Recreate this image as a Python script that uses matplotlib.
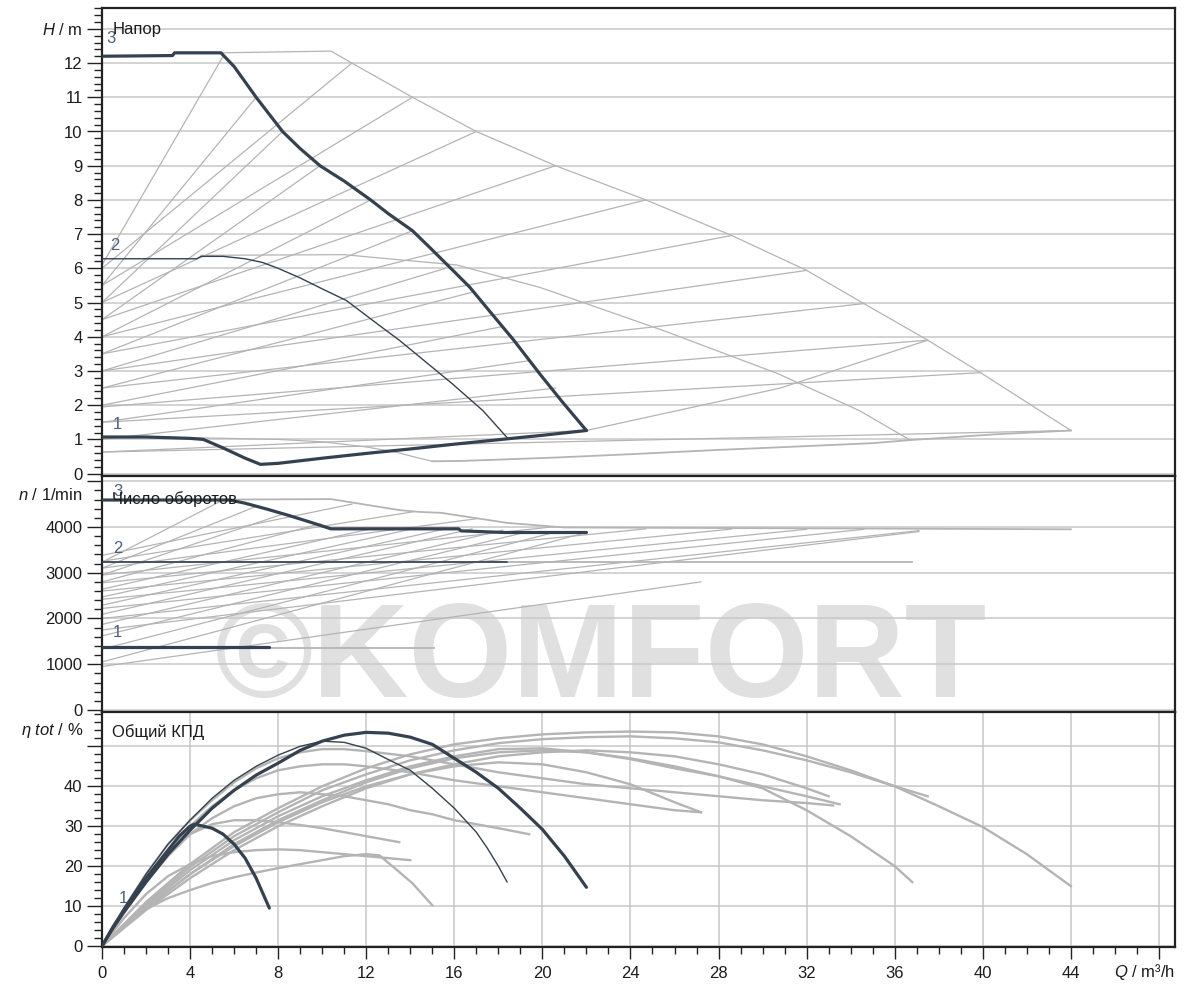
import matplotlib
matplotlib.use("Agg")
import matplotlib.pyplot as plt
from matplotlib.ticker import MultipleLocator

plt.rcParams["font.family"] = ["Liberation Sans", "DejaVu Sans"]
plt.rcParams["mathtext.fontset"] = "custom"
plt.rcParams["mathtext.rm"] = "Liberation Sans"
plt.rcParams["mathtext.it"] = "Liberation Sans:italic"
plt.rcParams["font.size"] = 12

# ---------------- head H(Q), m ----------------
q_head_3 = [0, 3.2, 3.3, 5.4, 6.0, 7.0, 8.2, 9.0, 9.9, 11.0, 12.2, 13.0, 14.1, 14.9,
            16.0, 16.7, 17.6, 18.7, 19.9, 20.9, 22.0]
h_head_3 = [12.2, 12.22, 12.3, 12.3, 11.9, 11.0, 10.0, 9.5, 9.0, 8.55, 8.0, 7.6, 7.1, 6.6,
            5.9, 5.45, 4.75, 3.9, 2.9, 2.1, 1.26]
q_head_2 = [0, 4.3, 4.5, 5.5, 6.5, 7.3, 8, 9, 10, 11.1, 12.6, 13.5, 14.9, 15.9, 17.3, 18.4]
h_head_2 = [6.28, 6.28, 6.35, 6.35, 6.28, 6.17, 6.0, 5.72, 5.4, 5.06, 4.33, 3.9, 3.16, 2.63,
            1.84, 1.05]
q_head_1 = [0, 2, 4, 4.6, 5.5, 6.5, 7.2, 8, 10, 12, 14, 16, 18, 20, 22.0]
h_head_1 = [1.07, 1.07, 1.03, 1.0, 0.75, 0.45, 0.27, 0.3, 0.45, 0.59, 0.72, 0.86, 0.99, 1.12, 1.26]

# larger pump envelope (grey)
q_head_big_max = [5.4, 10.4, 11.35, 14.1, 17.0, 20.6, 24.7, 28.6, 32.0, 34.6, 37.5, 39.9, 44.0]
h_head_big_max = [12.3, 12.35, 12.0, 11.0, 10.0, 9.0, 8.0, 6.96, 5.94, 4.97, 3.9, 2.95, 1.26]
q_head_big_mid = [4.5, 11.0, 13.5, 16.1, 19.9, 25.5, 30.7, 34.4, 36.7]
h_head_big_mid = [6.38, 6.4, 6.25, 6.1, 5.44, 4.18, 2.92, 1.84, 0.98]
q_head_big_low = [0, 4, 8, 10, 12, 13.4, 14.1, 15]
h_head_big_low = [1.07, 1.05, 1.0, 0.93, 0.78, 0.62, 0.5, 0.36]
q_head_big_min = [15, 16.3, 18.5, 20.6, 24.1, 27.9, 30.8, 35, 36.7, 40.6, 44]
h_head_big_min = [0.36, 0.37, 0.42, 0.47, 0.57, 0.69, 0.77, 0.89, 0.98, 1.15, 1.26]

# proportional-pressure control lines: start head at Q=0, end point on the max curve
dpv_small_h0 = [6.1, 5.5, 5.0, 4.5, 4.0, 3.5, 3.0, 2.5, 2.0, 1.5, 1.0, 0.63]
dpv_small_q1 = [5.5, 7.0, 8.2, 9.9, 12.2, 14.1, 15.6, 16.8, 18.2, 19.4, 20.6, 22.0]
dpv_small_h1 = [12.2, 11.0, 10.0, 9.0, 8.0, 7.1, 6.0, 5.3, 4.3, 3.3, 2.5, 1.26]
dpv_big_h0 = [6.0, 5.5, 5.0, 4.5, 4.0, 3.5, 3.0, 2.5, 1.95, 1.5, 0.63]
dpv_big_q1 = [11.35, 14.1, 17.0, 20.6, 24.7, 28.6, 32.0, 34.6, 37.5, 39.9, 44.0]
dpv_big_h1 = [12.0, 11.0, 10.0, 9.0, 8.0, 6.96, 5.94, 4.97, 3.9, 2.95, 1.26]
extra_head_q = [22.0, 30.8, 37.5]
extra_head_h = [1.26, 2.5, 3.9]

# ---------------- speed n(Q), 1/min ----------------
q_speed_3 = [0, 5.8, 6.5, 7.5, 8.5, 9.5, 10.4, 16.2, 16.3, 18.3, 22.0]
n_speed_3 = [4590, 4590, 4520, 4390, 4250, 4100, 3960, 3960, 3915, 3880, 3880]
q_speed_2 = [0, 18.4]
n_speed_2 = [3240, 3240]
q_speed_1 = [0, 7.6]
n_speed_1 = [1380, 1380]

q_speed_big_max = [5.8, 10.4, 13.5, 14.4, 15.4, 18.4, 21.0, 44.0]
n_speed_big_max = [4600, 4610, 4370, 4330, 4310, 4090, 3990, 3950]
q_speed_big_mid = [0, 36.8]
n_speed_big_mid = [3240, 3240]
q_speed_big_low = [0, 15.1]
n_speed_big_low = [1360, 1360]

spd_small_n0 = [3230, 3100, 2950, 2800, 2640, 2470, 2290, 2090, 1870, 1620, 1330, 1050]
spd_small_n1 = [4590, 4450, 4280, 4070, 3960, 3960, 3960, 3960, 3930, 3905, 3890, 3880]
spd_big_n0 = [3380, 3250, 3100, 2950, 2780, 2600, 2420, 2220, 2000, 1750, 950]
spd_big_q1 = [11.35, 14.1, 17.0, 20.6, 24.7, 28.6, 32.0, 34.6, 37.1, 37.1, 27.2]
spd_big_n1 = [4500, 4330, 4180, 4010, 3960, 3955, 3950, 3950, 3920, 3900, 2800]

# ---------------- overall efficiency, % ----------------
q_eff_3 = [0, 0.5, 1, 2, 3, 4, 5, 6, 7, 8, 9, 10, 11, 12, 13, 14, 15, 16, 17, 18, 19, 20, 21, 22]
e_eff_3 = [0, 4.5, 8.5, 16, 23, 29, 34.5, 39, 42.8, 45.8, 49, 51.3, 52.8, 53.5, 53.3, 52.3,
           50.5, 47, 43.5, 39.5, 34.5, 29.2, 22.5, 14.7]
q_eff_2 = [0, 1, 2, 3, 4, 5, 6, 7, 8, 9, 10, 11, 12, 13, 14, 15, 16, 17, 17.5, 18, 18.4]
e_eff_2 = [0, 9.5, 18, 25.5, 31.5, 37, 41.5, 45, 47.8, 50, 51.3, 51, 49.5, 46.7, 44, 39.5,
           34.5, 28.5, 24.5, 20, 16]
q_eff_1 = [0, 0.5, 1, 2, 3, 3.5, 4, 4.2, 5, 5.5, 6, 6.5, 7, 7.6]
e_eff_1 = [0, 4.8, 9, 17, 24, 27.5, 30, 30.5, 29.5, 28, 25.5, 22, 17, 9.5]

eff_grey_q = [
    [0, 2, 4, 6, 8, 10, 12, 14, 16, 18, 20, 22, 24, 26, 28, 30, 32, 34, 36, 38, 40, 42, 44],
    [0, 2, 4, 6, 8, 10, 12, 14, 16, 18, 20, 22, 24, 26, 28, 30, 32, 34, 36, 36.8],
    [0, 2, 4, 6, 8, 10, 12, 14, 16, 18, 20, 22, 24, 26, 27.2],
    [0, 2, 4, 6, 8, 10, 12, 14, 16, 18, 20, 22, 24, 26, 28, 30, 32, 33.5],
    [0, 2, 4, 6, 8, 10, 12, 14, 16, 18, 20, 22, 24, 26, 28, 30, 32, 34, 36, 37.5],
    [0, 2, 4, 6, 8, 10, 12, 14, 16, 18, 20, 22, 24, 26, 28, 30, 32, 33],
    [0, 1, 2, 3, 4, 5, 6, 7, 8, 9, 10, 11, 12, 14, 16, 18, 20, 22, 24, 26, 28, 30, 32, 33.2],
    [0, 1, 2, 3, 4, 5, 6, 7, 8, 9, 10, 11, 12, 14, 16, 18, 20, 22, 24, 26, 27.2],
    [0, 1, 2, 3, 4, 5, 6, 7, 8, 9, 10, 11, 12, 13, 14, 15, 16, 17, 18, 19.4],
    [0, 1, 2, 3, 4, 5, 6, 7, 8, 9, 10, 11, 12, 13, 13.5],
    [0, 1, 2, 3, 4, 5, 6, 7, 8, 9, 10, 11, 12, 13, 14],
    [0, 1, 2, 3, 4, 5, 6, 7, 8, 9, 10, 11, 12, 12.6, 13.4, 14.1, 15],
]
eff_grey_e = [
    [0, 11, 20.5, 28.5, 34.5, 40, 44.5, 48, 50.5, 52, 53, 53.5, 53.7, 53.5, 52.5, 50.5, 47.5,
     44, 40, 35, 29.8, 23, 15],
    [0, 10, 19, 26.5, 32.5, 37.5, 41.5, 45, 47.5, 49.3, 49.5, 48.5, 46.8, 44.5, 42.5, 39.5,
     34, 27.5, 20, 16],
    [0, 9.5, 18, 25, 31, 36, 40, 43, 45, 46, 45.5, 43.5, 40.5, 36, 33.5],
    [0, 9.5, 18, 25.5, 31.5, 36.5, 41, 44.5, 47, 48.5, 49, 48.5, 47, 45, 42.5, 40, 37.5, 35.5],
    [0, 10.5, 19.8, 27.5, 33.5, 39, 43, 46.5, 49, 50.8, 51.8, 52.3, 52.5, 52, 51, 49, 46.5,
     43.5, 40, 37.5],
    [0, 9, 17, 24, 30, 35, 39.5, 43, 45.5, 47.5, 48.5, 49, 48.5, 47.5, 45.5, 43, 39.5, 37.5],
    [0, 9.5, 18, 25.5, 31.5, 36.5, 41, 44.5, 47, 48.5, 49.3, 49.3, 48.8, 47.5, 45.5, 43.5, 42,
     40.5, 39.5, 38.5, 37.5, 36.5, 35.8, 35.2],
    [0, 9, 17, 24, 30, 35, 39, 42, 44, 45, 45.5, 45.5, 45, 43.5, 41.5, 40, 38.5, 37, 35.5, 34,
     33.5],
    [0, 9, 16.5, 23, 28, 32, 35, 37, 38, 38.5, 38, 37.5, 36.5, 35.5, 34, 33, 31.5, 30.5, 29.5,
     28],
    [0, 8.5, 16, 22.5, 28, 30.5, 31.5, 31.5, 31, 30.3, 29.5, 28.5, 27.5, 26.5, 26],
    [0, 7, 13, 17.5, 20.5, 22.5, 23.5, 24, 24.2, 24, 23.5, 23, 22.5, 22, 21.5],
    [0, 5, 9.2, 12, 14, 15.8, 17.2, 18.4, 19.5, 20.5, 21.5, 22.5, 23, 22.7, 19, 15.7, 10.2],
]

# ---------------- styling ----------------
DARK = "#36414f"
GREY = "#b4b4b4"
GRID = "#c8c8c8"
NUM = "#4d5f7c"
TEXT = "#1c1c1c"
SPINE = "#222222"
Q_MAX = 48.73

fig = plt.figure(figsize=(11.85, 9.9), dpi=100)
left, width = 102 / 1185, 1073 / 1185
ax_h = fig.add_axes([left, 1 - 476 / 990, width, 468 / 990])
ax_n = fig.add_axes([left, 1 - 712 / 990, width, 236 / 990])
ax_e = fig.add_axes([left, 1 - 947 / 990, width, 235 / 990])

for ax in (ax_h, ax_n, ax_e):
    ax.set_xlim(0, Q_MAX)
    ax.set_axisbelow(True)
    for sp in ax.spines.values():
        sp.set_linewidth(1.6)
        sp.set_color(SPINE)
    ax.tick_params(axis="y", which="major", direction="out", length=11, width=1,
                   colors=SPINE, labelcolor=TEXT, labelsize=12, pad=3)
    ax.tick_params(axis="y", which="minor", direction="out", length=5.5, width=1, colors=SPINE)
    ax.yaxis.grid(True, which="major", color=GRID, lw=1.1)

for ax in (ax_h, ax_n):
    ax.tick_params(axis="x", which="both", bottom=False, labelbottom=False)

# --- head panel ---
ax_h.set_ylim(-0.07, 13.61)
ax_h.set_yticks(range(14))
ax_h.set_yticklabels([str(i) for i in range(13)] + ["$H$ / m"])
ax_h.yaxis.set_minor_locator(MultipleLocator(0.2))

gkw = dict(color=GREY, lw=0.9, zorder=2)
for h0, q1, h1 in zip(dpv_small_h0, dpv_small_q1, dpv_small_h1):
    ax_h.plot([0, q1], [h0, h1], **gkw)
for h0, q1, h1 in zip(dpv_big_h0, dpv_big_q1, dpv_big_h1):
    ax_h.plot([0, q1], [h0, h1], **gkw)
ax_h.plot(extra_head_q, extra_head_h, **gkw)
ax_h.plot(q_head_big_max, h_head_big_max, **gkw)
ax_h.plot(q_head_big_mid, h_head_big_mid, **gkw)
ax_h.plot(q_head_big_low, h_head_big_low, **gkw)
ax_h.plot(q_head_big_min, h_head_big_min, color=GREY, lw=1.3, zorder=2)

dkw = dict(color=DARK, solid_joinstyle="round", solid_capstyle="round", zorder=3)
ax_h.plot(q_head_3, h_head_3, lw=2.3, **dkw)
ax_h.plot(q_head_1, h_head_1, lw=2.3, **dkw)
ax_h.plot(q_head_2, h_head_2, lw=1.0, **dkw)

ax_h.text(0.5, 12.97, "Напор", ha="left", va="center", color=TEXT, zorder=5)
ax_h.text(0.2, 12.72, "3", ha="left", va="center", color=NUM, zorder=4)
ax_h.text(0.35, 6.67, "2", ha="left", va="center", color=NUM, zorder=4)
ax_h.text(0.5, 1.43, "1", ha="left", va="center", color=NUM, zorder=4)

# --- speed panel ---
ax_n.set_ylim(-44, 5115)
ax_n.set_yticks([0, 1000, 2000, 3000, 4000, 5000])
ax_n.set_yticklabels(["0", "1000", "2000", "3000", "4000", ""])
ax_n.yaxis.set_minor_locator(MultipleLocator(200))
ax_n.text(-0.0177, 4700, "$n$ / 1/min", transform=ax_n.get_yaxis_transform(),
          ha="right", va="center", color=TEXT)

# faint background brand mark, under the grid
ax_n.text(0.105, 0.064, "©KOMFORT", transform=ax_n.transAxes, fontsize=96,
          fontweight="bold", color="#e0e0e0", ha="left", va="baseline", zorder=0.3)

for n0, q1, n1 in zip(spd_small_n0, dpv_small_q1, spd_small_n1):
    ax_n.plot([0, q1], [n0, n1], **gkw)
for n0, q1, n1 in zip(spd_big_n0, spd_big_q1, spd_big_n1):
    ax_n.plot([0, q1], [n0, n1], **gkw)
ax_n.plot(q_speed_big_max, n_speed_big_max, color=GREY, lw=1.3, zorder=2)
ax_n.plot(q_speed_big_mid, n_speed_big_mid, color=GREY, lw=1.3, zorder=2)
ax_n.plot(q_speed_big_low, n_speed_big_low, color=GREY, lw=1.3, zorder=2)

ax_n.plot(q_speed_3, n_speed_3, lw=2.3, **dkw)
ax_n.plot(q_speed_2, n_speed_2, lw=1.2, **dkw)
ax_n.plot(q_speed_1, n_speed_1, lw=2.3, **dkw)

ax_n.text(0.45, 4610, "Число оборотов", ha="left", va="center", color=TEXT, zorder=5)
ax_n.text(0.5, 4780, "3", ha="left", va="center", color=NUM, zorder=4)
ax_n.text(0.5, 3520, "2", ha="left", va="center", color=NUM, zorder=4)
ax_n.text(0.5, 1690, "1", ha="left", va="center", color=NUM, zorder=4)

# --- efficiency panel ---
ax_e.set_ylim(-0.25, 58.6)
ax_e.set_yticks([0, 10, 20, 30, 40, 50])
ax_e.set_yticklabels(["0", "10", "20", "30", "40", ""])
ax_e.yaxis.set_minor_locator(MultipleLocator(2))
ax_e.text(-0.0177, 54, r"$\eta\ tot$ / %", transform=ax_e.get_yaxis_transform(),
          ha="right", va="center", color=TEXT)

x_major = list(range(0, 49, 4))
ax_e.set_xticks(x_major)
ax_e.set_xticklabels([str(v) for v in x_major[:-1]] + [""])
ax_e.xaxis.set_minor_locator(MultipleLocator(1))
ax_e.tick_params(axis="x", which="major", direction="out", length=8.5, width=1,
                 colors=SPINE, labelcolor=TEXT, labelsize=12, pad=5)
ax_e.tick_params(axis="x", which="minor", direction="out", length=5, width=1, colors=SPINE)
ax_e.xaxis.grid(True, which="major", color=GRID, lw=1.1)
ax_e.text(1.0, -0.108, "$Q$ / m³/h", transform=ax_e.transAxes, ha="right", va="center",
          color=TEXT)

for qs, es in zip(eff_grey_q, eff_grey_e):
    ax_e.plot(qs, es, color=GREY, lw=1.7, zorder=2)

ax_e.plot(q_eff_3, e_eff_3, lw=2.3, **dkw)
ax_e.plot(q_eff_2, e_eff_2, lw=1.0, **dkw)
ax_e.plot(q_eff_1, e_eff_1, lw=2.3, **dkw)

ax_e.text(0.45, 53.6, "Общий КПД", ha="left", va="center", color=TEXT, zorder=5)
ax_e.text(0.75, 12, "1", ha="left", va="center", color=NUM, zorder=2.5)

fig.savefig("out.png", dpi=100, facecolor="white")
